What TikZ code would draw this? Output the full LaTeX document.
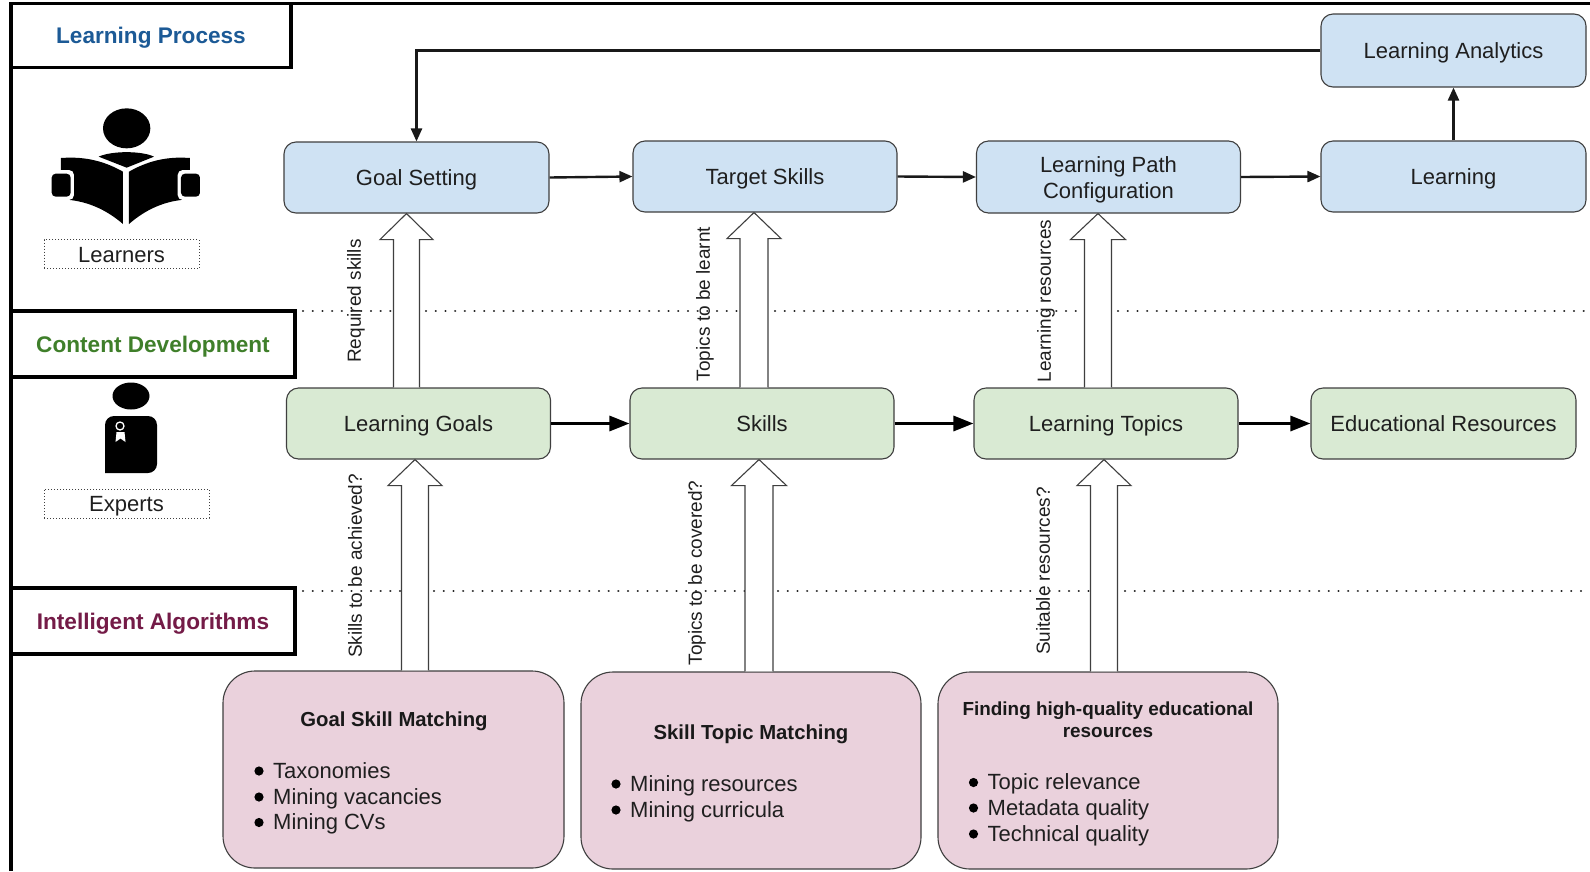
\documentclass[tikz,border=0pt]{standalone}
\usepackage{fontspec}
\setmainfont{Liberation Sans}
\usetikzlibrary{arrows.meta}
\definecolor{bluefill}{HTML}{CFE2F3}
\definecolor{greenfill}{HTML}{D9EAD3}
\definecolor{pinkfill}{HTML}{EAD1DC}
\definecolor{edgegray}{HTML}{3F3F3F}
\definecolor{txt}{HTML}{1F1F1F}
\definecolor{headblue}{HTML}{1C5A96}
\definecolor{headgreen}{HTML}{3F7F2A}
\definecolor{headred}{HTML}{741B47}
\newcommand{\szbox}{\fontsize{22}{26.4}\selectfont}
\tikzset{
  x=1pt,y=-1pt,
  oneline/.style={text height=16pt,text depth=0pt},
  basebox/.style={draw=edgegray,line width=1.1pt,rounded corners=12pt,inner sep=0pt,
     text=txt,align=center,font=\szbox},
  bluebox/.style={basebox,fill=bluefill},
  greenbox/.style={basebox,fill=greenfill},
  pinkbox/.style={basebox,fill=pinkfill,rounded corners=32pt},
  header/.style={draw=black,line width=3.2pt,fill=white,inner sep=0pt,oneline,font=\fontsize{22.6}{26}\selectfont\bfseries},
  caption/.style={draw=black!75,dotted,line width=1pt,inner sep=0pt,oneline,text=txt,font=\szbox},
  sidelabel/.style={rotate=90,text=txt,inner sep=0pt,font=\fontsize{19}{22}\selectfont},
  titletxt/.style={text=black!90,inner sep=0pt,align=center,font=\fontsize{20.3}{22}\selectfont\bfseries},
  itemtxt/.style={anchor=base west,text=txt,inner sep=0pt,font=\szbox},
  flow/.style={draw=black!90,line width=2.4pt,-{Triangle[length=13pt,width=11pt]}},
  bigflow/.style={draw=black,line width=3.1pt,-{Triangle[length=20pt,width=15pt]}},
  sep/.style={draw=black!85,line width=2.3pt,line cap=round,dash pattern=on 0.1pt off 9.6pt},
  hollow/.style={draw=edgegray,line width=1.1pt,fill=white,line join=miter},
  dotmark/.style={fill=black,radius=4.6pt},
}
% #1 centre x, #2 half shaft, #3 half head, #4 node the tail leaves, #5 node the tip reaches
\newcommand{\blockarrow}[5]{%
  \coordinate (tailpt) at (#1,0 |- #4);
  \coordinate (tippt) at (#1,0 |- #5);
  \draw[hollow] ([xshift=-#2pt]tailpt) -- ([xshift=-#2pt,yshift=-26pt]tippt) -- ([xshift=-#3pt,yshift=-26pt]tippt)
     -- (tippt) -- ([xshift=#3pt,yshift=-26pt]tippt) -- ([xshift=#2pt,yshift=-26pt]tippt) -- ([xshift=#2pt]tailpt);
}
% #1 node name, #2 position of the baseline start, #3 text
\newcommand{\listitem}[3]{%
  \node[itemtxt] (#1) at #2 {#3};
  \fill[black] ([xshift=-14pt,yshift=7pt]#1.base west) circle [radius=4.6pt];
}
\begin{document}
\begin{tikzpicture}
\useasboundingbox (0,0) rectangle (1590,871);
\fill[white] (0,0) rectangle (1590,871);

% frame
\draw[black,line width=3.2pt] (11,871) -- (11,3.5) -- (1590,3.5);

% separators
\draw[sep] (303,311) -- (393,311);
\draw[sep] (426,311) -- (740,311);
\draw[sep] (775,311) -- (1085,311);
\draw[sep] (1118,311) -- (1590,311);
\draw[sep] (303,591) -- (401,591);
\draw[sep] (434,591) -- (745,591);
\draw[sep] (778,591) -- (1091,591);
\draw[sep] (1125,591) -- (1590,591);

% headers
\node[header,text=headblue,minimum width=280pt,minimum height=64pt] (hLP) at (151,35.5) {Learning Process};
\node[header,text=headgreen,minimum width=284pt,minimum height=66pt] (hCD) at (153,344) {Content Development};
\node[header,text=headred,minimum width=284pt,minimum height=66pt] (hIA) at (153,621) {Intelligent Algorithms};

% learner icon
\begin{scope}[x=0.33333pt,y=-0.33333pt]
  \fill[black] (380,385) ellipse [x radius=71,y radius=60];
  \fill[black] (296,470) .. controls (335,452) and (425,452) .. (462,470) -- (380,503) -- cycle;
  \fill[black] (183,474) .. controls (240,470) and (300,476) .. (369,515) -- (369,672) .. controls (320,630) and (260,600) .. (183,598) -- cycle;
  \fill[black] (570,474) .. controls (515,470) and (455,476) .. (387,515) -- (387,672) .. controls (435,630) and (495,600) .. (570,598) -- cycle;
  \fill[white,rounded corners=5pt] (140,510) rectangle (222,600);
  \fill[white,rounded corners=5pt] (533,510) rectangle (615,600);
  \fill[black,rounded corners=4pt] (155,521) rectangle (212,590);
  \fill[black,rounded corners=4pt] (543,521) rectangle (600,590);
\end{scope}

% expert icon
\fill[black] (131,396) ellipse [x radius=18.5,y radius=13.5];
\fill[black,rounded corners=9pt] (105,473) -- (105,416) -- (157,416) -- (157,473) [sharp corners] -- cycle;
\fill[white] (116.5,432) -- (124.5,432) -- (125.5,442) -- (120.5,438.5) -- (115.5,442) -- cycle;
\draw[white,line width=1.3pt] (120,426) circle [radius=4];

% caption boxes
\node[caption,minimum width=155pt,minimum height=29pt] (cL) at (121.5,254) {Learners};
\node[caption,minimum width=165pt,minimum height=29pt] (cE) at (126.5,503.5) {Experts};

% top row
\node[bluebox,oneline,minimum width=265pt,minimum height=71pt] (GS) at (416.5,177.5) {Goal Setting};
\node[bluebox,oneline,minimum width=264pt,minimum height=71pt] (TS) at (765,176.5) {Target Skills};
\node[bluebox,minimum width=264pt,minimum height=72pt] (LPC) at (1108.5,177) {\rule{0pt}{21pt}Learning Path\\Configuration};
\node[bluebox,oneline,minimum width=265pt,minimum height=71pt] (LE) at (1453.5,176.5) {Learning};
\node[bluebox,oneline,minimum width=265pt,minimum height=73pt] (LA) at (1453.5,50.5) {Learning Analytics};

% middle row
\node[greenbox,oneline,minimum width=264pt,minimum height=71pt] (LG) at (418.5,423.5) {Learning Goals};
\node[greenbox,oneline,minimum width=264pt,minimum height=71pt] (SK) at (762,423.5) {Skills};
\node[greenbox,oneline,minimum width=264pt,minimum height=71pt] (LT) at (1106,423.5) {Learning Topics};
\node[greenbox,oneline,minimum width=265pt,minimum height=71pt] (ER) at (1443.5,423.5) {Educational Resources};

% bottom row
\node[pinkbox,minimum width=341pt,minimum height=197pt] (PG) at (393.5,769.5) {};
\node[pinkbox,minimum width=340pt,minimum height=197pt] (PS) at (751,770.5) {};
\node[pinkbox,minimum width=340pt,minimum height=197pt] (PF) at (1108,770.5) {};

% block arrows
\blockarrow{406.5}{13}{26.5}{LG.north}{GS.south}
\blockarrow{754}{14}{27}{SK.north}{TS.south}
\blockarrow{1098}{13.5}{27.5}{LT.north}{LPC.south}
\blockarrow{415}{13.5}{27}{PG.north}{LG.south}
\blockarrow{759}{14}{27.5}{PS.north}{SK.south}
\blockarrow{1104}{13.5}{27}{PF.north}{LT.south}

% block arrow labels
\node[sidelabel] (l1) at (356,301) {Required skills};
\node[sidelabel] (l2) at (705,304) {Topics to be learnt};
\node[sidelabel] (l3) at (1046,301) {Learning resources};
\node[sidelabel] (l4) at (355,566) {Skills to be achieved?};
\node[sidelabel] (l5) at (697,573) {Topics to be covered?};
\node[sidelabel] (l6) at (1043,571) {Suitable resources?};

% flows
\draw[flow] (GS.east) -- (TS.west);
\draw[flow] (TS.east) -- (LPC.west);
\draw[flow] (LPC.east) -- (LE.west);
\draw[flow] (LE.north) -- (LA.south);
\draw[flow] (LA.west) -| (GS.north);
\draw[bigflow] (LG.east) -- (SK.west);
\draw[bigflow] (SK.east) -- (LT.west);
\draw[bigflow] (LT.east) -- (ER.west);

% pink box contents
\node[titletxt] (t1) at (394,721) {Goal Skill Matching};
\listitem{g1}{(273,778)}{Taxonomies}
\listitem{g2}{(273,804)}{Mining vacancies}
\listitem{g3}{(273,829.5)}{Mining CVs}

\node[titletxt] (t2) at (751,734) {Skill Topic Matching};
\listitem{s1}{(630,791)}{Mining resources}
\listitem{s2}{(630,817)}{Mining curricula}

\node[titletxt,font=\fontsize{18.9}{22.3}\selectfont\bfseries] (t3) at (1108,720) {Finding high-quality educational\\resources};
\listitem{f1}{(987.5,789.5)}{Topic relevance}
\listitem{f2}{(987.5,815)}{Metadata quality}
\listitem{f3}{(987.5,841)}{Technical quality}
\end{tikzpicture}
\end{document}
